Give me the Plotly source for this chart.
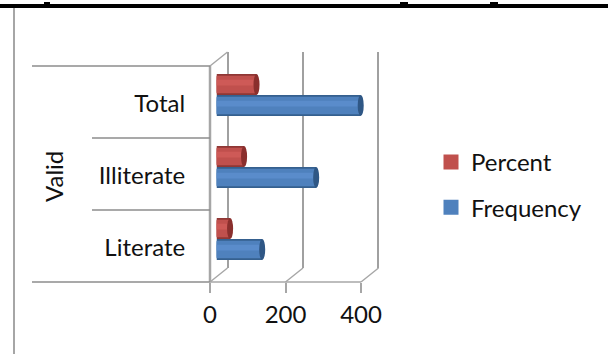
import plotly.graph_objects as go

categories = ["Literate", "Illiterate", "Total"]
frequency = [121, 264, 382]
percent = [36, 73, 106]
tick_vals = [0, 200, 400]
group_label = "Valid"
W, H = 608, 354
FONT = "Lato"
FS = 24
BLUE, BLUE_D, BLUE_L, BLUE_C = "#4F81BD", "#35608F", "#5A8CCB", "#2F5785"
RED, RED_D, RED_L, RED_C = "#C0504D", "#8F3735", "#CE5A57", "#8A2F2D"
BW = 0.29
px_x = lambda p: p / W
px_y = lambda p: 1 - p / H
WALL = "#A6A6A6"
EDGE = "#8C8C8C"

fig = go.Figure()


def layers(vals, base, dark, light, name, offset, cap):
    y = categories
    kw = dict(y=y, x=vals, orientation="h", xaxis="x3", yaxis="y3", hoverinfo="skip")
    fig.add_bar(marker_color=dark, marker_line_width=0, width=BW, offset=offset, showlegend=False, **kw)
    fig.add_bar(name=name, legendgroup=name, marker=dict(color=base, line=dict(color=base, width=3)),
                width=BW - 0.09, offset=offset + 0.045, **kw)
    fig.add_bar(marker_color=light, marker_line_width=0, width=BW * 0.28, offset=offset + BW * 0.45, showlegend=False, **kw)
    for i, v in enumerate(vals):
        fig.add_shape(type="circle", xref="x3", yref="y3", x0=v - 8, x1=v + 8, y0=i + offset, y1=i + offset + BW,
                      fillcolor=cap, line_width=0, layer="above")


layers(percent, RED, RED_D, RED_L, "Percent", 0.0, RED_C)
layers(frequency, BLUE, BLUE_D, BLUE_L, "Frequency", -BW, BLUE_C)

# wall and floor
shapes = [
    dict(type="line", xref="paper", yref="paper", x0=0, x1=1, y0=px_y(6), y1=px_y(6), line=dict(color="#000", width=4)),
    dict(type="line", xref="paper", yref="paper", x0=px_x(14), x1=px_x(14), y0=px_y(8), y1=0, line=dict(color=WALL, width=2)),
    dict(type="line", xref="paper", yref="paper", x0=px_x(210), x1=px_x(210), y0=px_y(66), y1=px_y(282), line=dict(color=WALL, width=2.5)),
    dict(type="line", xref="paper", yref="paper", x0=px_x(210), x1=px_x(227.5), y0=px_y(66), y1=px_y(52), line=dict(color=WALL, width=1.5)),
]
# slivers of the clipped heading above the rule
for x0, x1 in [(44, 50), (400, 408), (490, 498)]:
    shapes.append(dict(type="line", xref="paper", yref="paper", x0=px_x(x0), x1=px_x(x1), y0=px_y(3), y1=px_y(3),
                       line=dict(color="#000", width=2)))
for t, off in zip(tick_vals, [0, 75.5, 151]):
    shapes.append(dict(type="line", xref="paper", yref="paper", x0=px_x(210 + off), x1=px_x(227.5 + off),
                       y0=px_y(282), y1=px_y(268), line=dict(color=WALL, width=1.5)))
for yp, left in [(282, 32), (210, 92), (138, 92), (66, 32)]:
    shapes.append(dict(type="line", xref="paper", yref="paper", x0=px_x(left), x1=px_x(210), y0=px_y(yp), y1=px_y(yp),
                       line=dict(color=EDGE, width=1.5)))
for s in shapes:
    fig.add_shape(**s)

fig.add_annotation(text=group_label, xref="paper", yref="paper", x=px_x(53), y=px_y(176), textangle=-90,
                   xanchor="center", yanchor="middle", showarrow=False, font=dict(family=FONT, size=FS, color="#111"))

fig.update_layout(
    width=W, height=H, margin=dict(l=0, r=0, t=0, b=0, autoexpand=False), autosize=False,
    paper_bgcolor="#fff", plot_bgcolor="rgba(0,0,0,0)", barmode="overlay",
    font=dict(family=FONT, size=FS, color="#111"),
    legend=dict(x=px_x(431), y=px_y(140), xanchor="left", yanchor="top", traceorder="grouped",
                tracegroupgap=11, bgcolor="rgba(0,0,0,0)", font=dict(family=FONT, size=FS, color="#111"),
                itemclick=False, itemdoubleclick=False),
    xaxis=dict(domain=[px_x(210), px_x(361)], range=[0, 400], anchor="free", position=px_y(282), tickvals=tick_vals,
               showgrid=False, zeroline=False, showline=True, linecolor="#BDBDBD", linewidth=2, ticks="outside",
               ticklen=10, tickcolor=WALL, tickwidth=1.5, ticklabelstandoff=1),
    yaxis=dict(domain=[px_y(284), px_y(68)], range=[-0.5, 2.5], anchor="x", type="category",
               categoryorder="array", categoryarray=categories, tickvals=categories, ticks="outside",
               ticklen=19, tickcolor="rgba(0,0,0,0)", showgrid=False, zeroline=False, showline=False),
    xaxis2=dict(domain=[px_x(226), px_x(380)], range=[-4, 404], anchor="y2", tickvals=tick_vals, showgrid=True,
                gridcolor="#A0A0A0", gridwidth=2, showticklabels=False, zeroline=False, ticks=""),
    yaxis2=dict(domain=[px_y(268), px_y(52)], range=[0, 1], anchor="x2", visible=False),
    xaxis3=dict(domain=[px_x(216.5), px_x(367.5)], range=[0, 400], anchor="y3", visible=False),
    yaxis3=dict(domain=[px_y(275), px_y(59)], range=[-0.5, 2.5], anchor="x3", type="category",
                categoryorder="array", categoryarray=categories, visible=False),
)
# Empty traces so the back-wall and front axes are drawn
fig.add_scatter(x=[None], y=[None], xaxis="x2", yaxis="y2", showlegend=False, hoverinfo="skip")
fig.add_scatter(x=[None], y=categories[:1], xaxis="x", yaxis="y", showlegend=False, hoverinfo="skip")
fig.write_html("out.html", config={"displayModeBar": False},
               post_script="document.body.style.margin='0';document.documentElement.style.overflow='hidden';")
